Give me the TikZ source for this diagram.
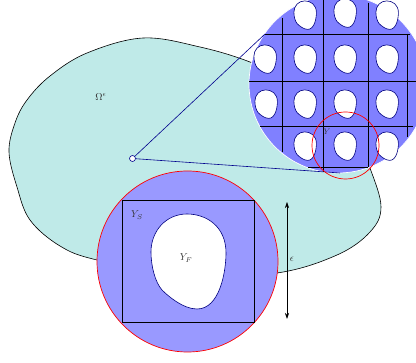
\documentclass[tikz,border=0pt]{standalone}
\usetikzlibrary{arrows.meta}
\definecolor{blobfill}{HTML}{BFEAE8}
\definecolor{zoomfill}{HTML}{8080FF}
\definecolor{cellfill}{HTML}{9999FF}
\colorlet{labelink}{black!80}
\tikzset{
  x=1pt,y=-1pt,
  blob/.style={draw=black,fill=blobfill,line width=.6pt},
  holeline/.style={draw=blue!50!black,fill=white,line width=.6pt},
  gridline/.style={draw=black,line width=.6pt},
  leader/.style={draw=blue!55!black,line width=.6pt},
  redring/.style={draw=red,line width=.7pt},
  labeltext/.style={text=labelink},
  pics/hole/.style={code={
    \path[holeline] (-1,-47) .. controls (18,-47) and (38,-35) .. (38,-8)
      .. controls (38,10) and (32,48) .. (9,48)
      .. controls (-5,48) and (-20,35) .. (-26,29)
      .. controls (-33,21) and (-37,5) .. (-37,-9)
      .. controls (-37,-30) and (-22,-47) .. (-1,-47) -- cycle;
  }},
}
\begin{document}
\begin{tikzpicture}
\useasboundingbox (0,0) rectangle (416,363);
\clip (0,0) rectangle (416,363);
\path[blob] plot[smooth cycle,tension=.6] coordinates
  {(143,38) (200,47) (250,62) (300,85) (350,120) (370,168) (381,207) (370,232) (337,255) (277,273) (187,277) (97,260) (60,246) (30,220) (17,187) (9,152) (15,123) (27,100) (50,76) (87,53)};
\node[labeltext] (omega) at (101,97) {$\Omega^\epsilon$};
% zoomed lattice
\node[circle,fill=zoomfill,draw=white,line width=.7pt,minimum size=178pt,inner sep=0pt] (lattice) at (338,84) {};
\foreach \px/\py in {305/15,345/13,387/15,
  265/59,305/59,345/59,387/59,
  266/104,305/104,345/104,387/104,
  305/146,345/146,387/146}
  \pic[scale=.3,transform shape] at (\px,\py) {hole};
\coordinate (h1a) at (265,34); \coordinate (h1b) at (410,34);
\coordinate (h2a) at (249,81); \coordinate (h2b) at (416,81);
\coordinate (h3a) at (260,126); \coordinate (h3b) at (413,126);
\coordinate (h4a) at (308,167); \coordinate (h4b) at (368,167);
\coordinate (v1a) at (282,18); \coordinate (v1b) at (282,152);
\coordinate (v2a) at (323,0); \coordinate (v2b) at (323,172);
\coordinate (v3a) at (368,3); \coordinate (v3b) at (368,167);
\coordinate (v4a) at (407,34); \coordinate (v4b) at (407,137);
\foreach \a/\b in {h1a/h1b,h2a/h2b,h3a/h3b,h4a/h4b,v1a/v1b,v2a/v2b,v3a/v3b,v4a/v4b}
  \draw[gridline] (\a) -- (\b);
\node[inner sep=0pt,font=\footnotesize,labeltext] (ysmall) at (327,132) {$Y$};
% leaders
\node[circle,draw=blue!55!black,fill=white,line width=.6pt,minimum size=6pt,inner sep=0pt] (point) at (132.5,158.5) {};
\coordinate (lt) at (265,34);
\coordinate (lb) at (340,173);
\draw[leader] (point) -- (lt);
\draw[leader] (point) -- (lb);
\node[circle,redring,minimum size=67pt,inner sep=0pt] (cellring) at (345.5,145.5) {};
% enlarged cell
\node[circle,redring,fill=cellfill,minimum size=181pt,inner sep=0pt] (cell) at (187.5,261.5) {};
\node[draw=black,line width=.6pt,minimum width=132pt,minimum height=122pt,inner sep=0pt] (square) at (188,261) {};
\pic at (188,261) {hole};
\node[labeltext] (ys) at (137,215) {$Y_S$};
\node[labeltext] (yf) at (186,258) {$Y_F$};
\coordinate (at) at (287,202);
\coordinate (ab) at (287,319);
\draw[black,line width=.6pt,{Stealth[length=6pt,width=4pt]}-{Stealth[length=6pt,width=4pt]}] (at) -- (ab);
\node[labeltext] (eps) at (292,259) {$\epsilon$};
\end{tikzpicture}
\end{document}
